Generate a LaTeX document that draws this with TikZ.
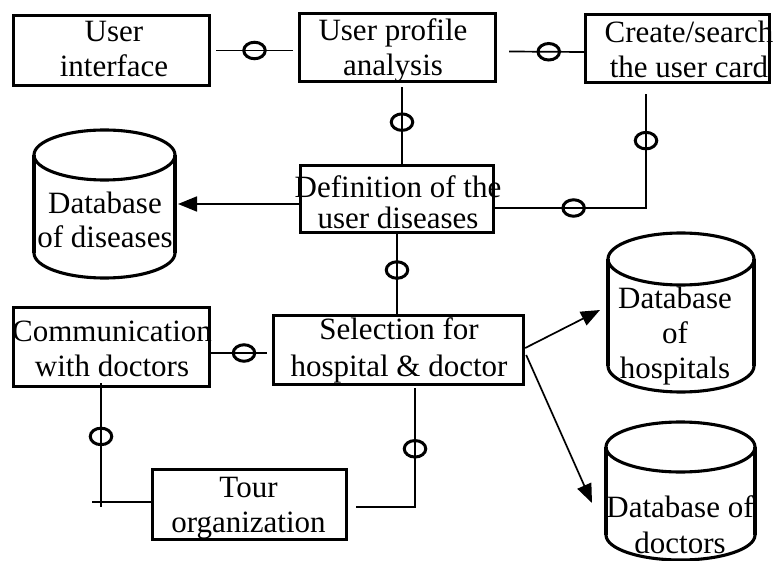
\documentclass[tikz,border=0pt]{standalone}
\usepackage{fontspec}
\setmainfont{Liberation Serif}
\usetikzlibrary{arrows.meta,shapes.geometric}
\newcommand\dbcyl[6]{% xl, xr, cx, yt, yb, ry
  \draw[cyl] (#1,#4) -- (#1,#5);
  \draw[cyl] (#2,#4) -- (#2,#5);
  \draw[cyl] (#3,#4) ellipse[x radius={(#2-#1)/2}, y radius=#6];
  \begin{scope}
    \clip (#1-5,#5) rectangle (#2+5,#5+#6+5);
    \draw[cyl] (#3,#5) ellipse[x radius={(#2-#1)/2}, y radius=#6];
  \end{scope}}
\begin{document}
\begin{tikzpicture}[x=1pt,y=-1pt,
  box/.style={draw, line width=3.4pt, inner sep=0pt},
  txt/.style={inner sep=0pt, align=center, font=\fontsize{31}{35}\selectfont},
  conn/.style={line width=1.7pt},
  ring/.style={draw, ellipse, line width=3pt, minimum width=21.5pt, minimum height=16.5pt, inner sep=0pt},
  arr/.style={line width=1.7pt, -{Triangle[length=19pt,width=15pt]}},
  cyl/.style={line width=3.1pt}]
\useasboundingbox (0,0) rectangle (773,561);

% boxes
\node[box, minimum width=196pt, minimum height=70pt] (ui)   at (111.5,50.5) {};
\node[box, minimum width=196pt, minimum height=68pt] (upa)  at (397.5,47.5) {};
\node[box, minimum width=184pt, minimum height=68pt] (cs)   at (677.5,48.5) {};
\node[box, minimum width=193pt, minimum height=67pt] (def)  at (397,199) {};
\node[box, minimum width=250pt, minimum height=69pt] (sel)  at (398.5,350) {};
\node[box, minimum width=196pt, minimum height=79pt] (com)  at (111.5,347) {};
\node[box, minimum width=194pt, minimum height=70pt] (tour) at (249.5,504.5) {};

% box texts
\node[txt] (uit)   at (114,49)    {User\\interface};
\node[txt] (upat)  at (393,50.5)  {User profile\\analysis};
\node[txt] (cst)   at (689,49)    {Create/search\\the user card};
\node[txt] (deft)  at (398,202)   {Definition of the\\[-4pt]user diseases};
\node[txt] (selt)  at (399,350.5) {Selection for\\[2pt]hospital \& doctor};
\node[txt] (comt)  at (112,349)   {Communication\\with doctors};
\node[txt] (tourt) at (248.5,508.5) {Tour\\organization};

% databases
\dbcyl{34}{175}{104.5}{155}{253}{25}
\dbcyl{608}{754}{681}{259}{366}{26}
\dbcyl{606}{755}{680.5}{447}{535}{25}
\node[txt] (dist)  at (105,219.5) {Database\\[-1pt]of diseases};
\node[txt] (hospt) at (675,336)   {Database\\of\\hospitals};
\node[txt] (doct)  at (680,524.5) {Database of\\[1pt]doctors};

% connectors
\draw[conn] ([xshift=5pt]ui.east) -- ([xshift=-5pt]ui.east -| upa.west) node[ring, pos=0.5] (r1) {};
\draw[conn] ([xshift=12pt,yshift=-4pt]upa.east) -- ([yshift=-3.5pt]cs.west) node[ring, pos=0.53] (r2) {};
\draw[conn] ([xshift=4.5pt,yshift=-4pt]upa.south) -- ([xshift=5pt]def.north) node[ring, pos=0.456] (r3) {};
\draw[conn] ([xshift=-31.5pt,yshift=-10pt]cs.south) |- ([yshift=-9pt]def.east)
  node[ring, pos=0.204] (r4) {} node[ring, pos=0.74] (r5) {};
\draw[conn] (def.south) -- (def.south |- sel.north) node[ring, pos=0.45] (r6) {};
\draw[conn] ([yshift=-6pt]com.east) -- ([xshift=-5pt,yshift=-3pt]sel.west) node[ring, pos=0.59] (r7) {};
\coordinate (c1) at (101,507);
\coordinate (c2) at (92,502);
\draw[conn] ([xshift=-10.5pt,yshift=5pt]com.south) -- (c1) node[ring, pos=0.43] (r8) {};
\draw[conn] (c2) -- ([yshift=2.5pt]tour.west);
\draw[conn] ([xshift=8pt,yshift=-2.5pt]tour.east) -| ([xshift=16.5pt,yshift=-2pt]sel.south) node[ring, pos=0.745] (r9) {};

% arrows
\coordinate (dtip) at (178,204);
\coordinate (htip) at (600,310);
\coordinate (ctip) at (592,503);
\draw[arr] ([yshift=-5pt]def.west) -- (dtip);
\draw[arr] ([yshift=2pt]sel.east) -- (htip);
\draw[arr] ([xshift=1pt,yshift=-5pt]sel.east) -- (ctip);
\end{tikzpicture}
\end{document}
